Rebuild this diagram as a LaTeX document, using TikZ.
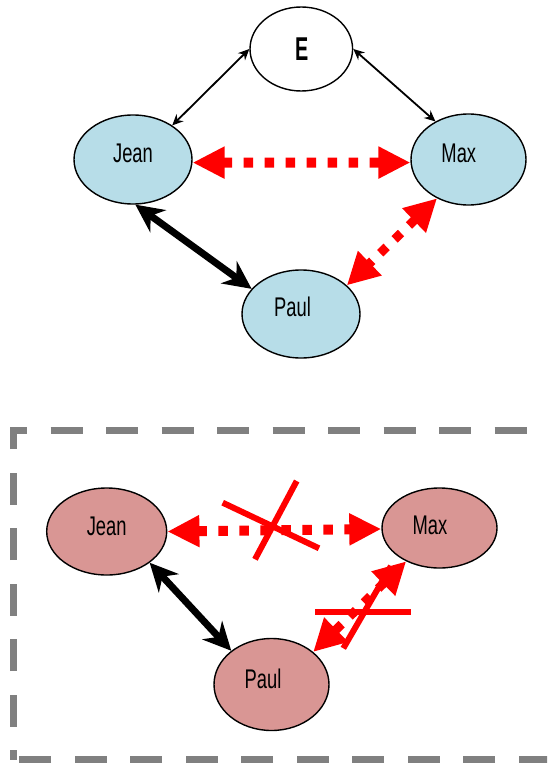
\documentclass[tikz,border=0pt]{standalone}
\usepackage{fontspec}
\usetikzlibrary{shapes.geometric,arrows.meta}
\newfontfamily\agfont[FakeStretch=0.68]{Liberation Sans}
\newfontfamily\agbold[FakeStretch=0.6]{Liberation Sans}
\definecolor{nodeblue}{RGB}{183,221,232}
\definecolor{nodepink}{RGB}{217,150,148}
\definecolor{framegray}{RGB}{128,128,128}
\tikzset{
  ell/.style={ellipse, draw=black, line width=1.4pt, inner sep=0pt},
  topfill/.style={fill=nodeblue},
  botfill/.style={fill=nodepink},
  lbl/.style={anchor=base, inner sep=0pt, font=\agfont\fontsize{27}{30}\selectfont},
  elbl/.style={anchor=base, inner sep=0pt, font=\agbold\bfseries\fontsize{33}{35}\selectfont},
  thinarrow/.style={line width=1.8pt, {Stealth[length=11pt,width=10pt]}-{Stealth[length=11pt,width=10pt]}},
  thickarrow/.style={line width=7pt, {Stealth[length=28pt,width=27pt]}-{Stealth[length=28pt,width=27pt]}},
  redarrow/.style={red, line width=10pt, dash pattern=on 9.5pt off 11.5pt, {Triangle[length=32pt,width=30pt]}-{Triangle[length=32pt,width=30pt]}},
  redarrowd/.style={red, line width=9pt, dash pattern=on 9pt off 11pt, {Triangle[length=32pt,width=32pt]}-{Triangle[length=32pt,width=32pt]}},
  crossline/.style={red, line width=6pt},
  framebox/.style={draw=framegray, line width=7pt, dash pattern=on 32pt off 23.5pt, dash phase=22.5pt}
}
\begin{document}
\begin{tikzpicture}[x=1pt,y=-1pt]
\useasboundingbox (0,0) rectangle (547,765);
\clip (0,0) rectangle (547,765);
\fill[white] (0,0) rectangle (547,765);

% ---- top graph ----
\node[ell, fill=white, minimum width=102.6pt, minimum height=84pt] (E) at (301.3,49) {};
\node[ell, topfill, minimum width=118pt, minimum height=89pt] (Jean) at (133,159.5) {};
\node[ell, topfill, minimum width=115pt, minimum height=91pt] (Max) at (468.5,159.5) {};
\node[ell, topfill, minimum width=118pt, minimum height=88pt] (Paul) at (301,314) {};

\node[elbl] (Et) at (301.7,60.5) {E};
\node[lbl] (Jeant) at (133,162.7) {Jean};
\node[lbl] (Maxt) at (458.8,162.7) {Max};
\node[lbl] (Pault) at (292.5,316.7) {Paul};

\draw[thinarrow] (E.west) -- (Jean.41);
\draw[thinarrow] (E.east) -- (Max.131);
\draw[redarrow] (Jean.-3) -- (Max.183);
\draw[thickarrow] (Jean.-87) -- (Paul.153);
\draw[redarrowd] (Max.231) -- (Paul.32);

% ---- bottom frame ----
\coordinate (FBL) at (13.7,759.5);
\coordinate (FTL) at (13.7,430.3);
\coordinate (FTR) at (580,430.3);
\coordinate (FBR) at (580,759.5);
\draw[framebox] (FBL) -- (FTL) -- (FTR) -- (FBR) -- cycle;

% ---- bottom graph ----
\node[ell, botfill, minimum width=120pt, minimum height=87pt] (Jean2) at (106.7,531.5) {};
\node[ell, botfill, minimum width=115pt, minimum height=80pt] (Max2) at (439.5,528) {};
\node[ell, botfill, minimum width=115pt, minimum height=92pt] (Paul2) at (271.5,684.5) {};

\node[lbl] (Jean2t) at (106.7,535) {Jean};
\node[lbl] (Max2t) at (430,534.3) {Max};
\node[lbl] (Paul2t) at (263,688.3) {Paul};

\draw[redarrow] (Jean2.0) -- (Max2.181);
\draw[thickarrow] (Jean2.-36) -- (Paul2.140);
\draw[redarrowd] (Max2.225) -- (Paul2.38);

% crosses
\coordinate (A1) at (222.7,502.7);
\coordinate (A2) at (319,548.3);
\coordinate (B1) at (296.7,481);
\coordinate (B2) at (255,559.3);
\coordinate (C1) at (315,611.5);
\coordinate (C2) at (410.7,611.5);
\coordinate (D1) at (343.3,648.3);
\coordinate (D2) at (391,566);
\draw[crossline] (A1) -- (A2);
\draw[crossline] (B1) -- (B2);
\draw[crossline] (C1) -- (C2);
\draw[crossline] (D1) -- (D2);
\end{tikzpicture}
\end{document}
